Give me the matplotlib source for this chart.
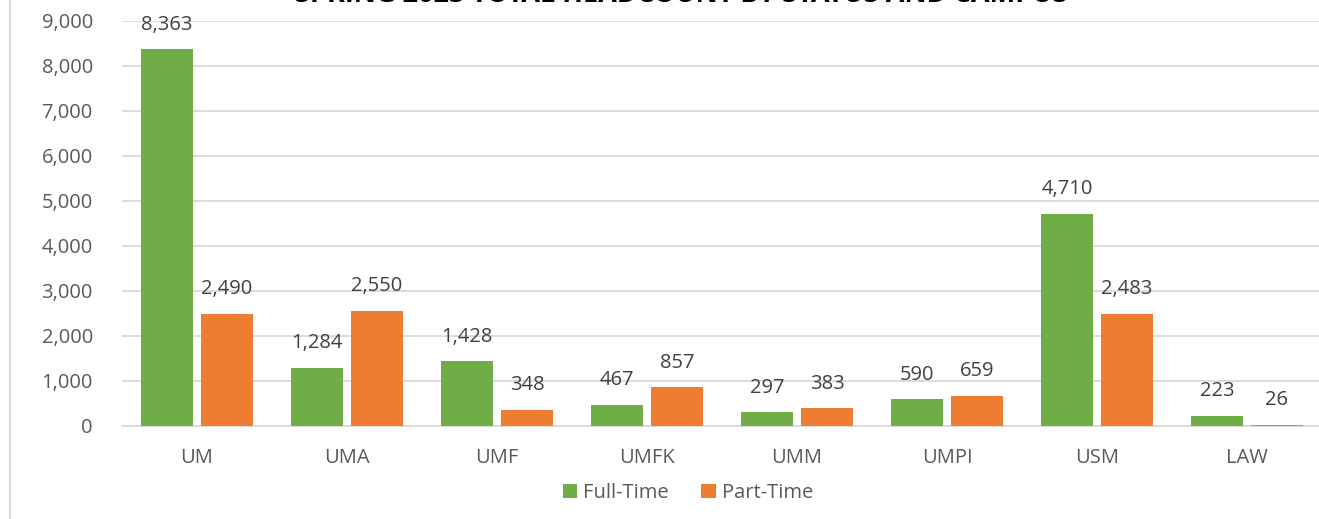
import matplotlib
matplotlib.use("Agg")
import matplotlib.pyplot as plt
from matplotlib.lines import Line2D
from matplotlib.ticker import FuncFormatter, MultipleLocator

campuses = ["UM", "UMA", "UMF", "UMFK", "UMM", "UMPI", "USM", "LAW"]
full_time = [8363, 1284, 1428, 467, 297, 590, 4710, 223]
part_time = [2490, 2550, 348, 857, 383, 659, 2483, 26]
series_names = ["Full-Time", "Part-Time"]
title = "SPRING 2023 TOTAL HEADCOUNT BY STATUS AND CAMPUS"

GREEN = "#70AD47"
ORANGE = "#ED7D31"
GRID = "#D9D9D9"
TICK = "#595959"
LABEL = "#404040"

plt.rcParams["font.family"] = ["Open Sans", "DejaVu Sans"]

W, H = 1319, 519
fig = plt.figure(figsize=(W / 100, H / 100), dpi=100)
ax_left, ax_right = 122, 1319
ax_top, ax_bot = 20.7, 425.7
ax = fig.add_axes([ax_left / W, 1 - ax_bot / H, (ax_right - ax_left) / W, (ax_bot - ax_top) / H])

x = list(range(len(campuses)))
bw = 0.347
off = 0.2
b1 = ax.bar([i - off for i in x], full_time, width=bw, color=GREEN, label=series_names[0], zorder=3)
b2 = ax.bar([i + off for i in x], part_time, width=bw, color=ORANGE, label=series_names[1], zorder=3)

for bars, vals in ((b1, full_time), (b2, part_time)):
    for rect, v in zip(bars, vals):
        ax.annotate(f"{v:,}", (rect.get_x() + rect.get_width() / 2, v),
                    xytext=(0, 10.5), textcoords="offset points",
                    ha="center", va="bottom", fontsize=14.5, color=LABEL)

ax.set_xlim(-0.5, 7.5 - 3 / 150)
ax.set_ylim(0, 9000)
ax.yaxis.set_major_locator(MultipleLocator(1000))
ax.yaxis.set_major_formatter(FuncFormatter(lambda v, p: f"{int(v):,}"))
ax.set_xticks(x)
ax.set_xticklabels(campuses)
ax.tick_params(axis="y", length=0, pad=21, labelsize=14.5, labelcolor=TICK)
ax.tick_params(axis="x", length=0, pad=16, labelsize=14.5, labelcolor=TICK)
ax.grid(axis="y", color=GRID, linewidth=1.3, zorder=0)
for s in ("top", "right", "left"):
    ax.spines[s].set_visible(False)
ax.spines["bottom"].set_color(GRID)
ax.spines["bottom"].set_linewidth(1.3)
ax.spines["bottom"].set_zorder(2)

leg = fig.legend(handles=[b1, b2], labels=series_names, loc="center",
                 bbox_to_anchor=(688 / W, 1 - 493 / H), ncol=2, frameon=False,
                 fontsize=14.5, handlelength=0.72, handleheight=0.72,
                 handletextpad=0.3, columnspacing=1.6)
for t in leg.get_texts():
    t.set_color(TICK)

fig.text(681 / W, 1 - 2.5 / H, title, ha="center", va="baseline",
         fontsize=19.5, fontweight="bold", color="#000000")

fig.add_artist(Line2D([10 / W, 10 / W], [0, 1], transform=fig.transFigure,
                      color=GRID, linewidth=1.5))

fig.savefig("out.png", dpi=100)
